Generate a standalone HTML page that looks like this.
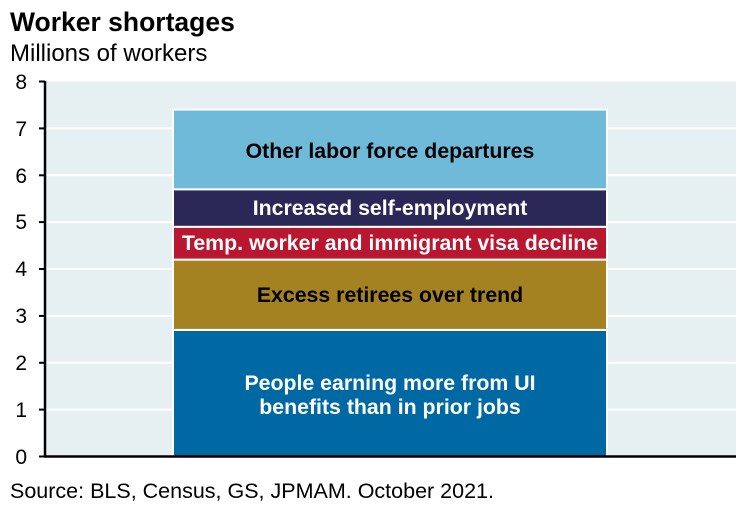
<!DOCTYPE html>
<html><head><meta charset="utf-8"><style>
body{margin:0;background:#fff}
svg{display:block;font-family:"Liberation Sans",Arial,sans-serif}
</style></head><body>
<svg width="741" height="509" viewBox="0 0 741 509">
<text x="10" y="31" font-size="26.5" font-weight="bold" fill="#000">Worker shortages</text>
<text x="10" y="61" font-size="24" fill="#000">Millions of workers</text>
<rect x="45" y="81.5" width="691" height="375" fill="#e6eff2"/>
<g stroke="#fff" stroke-width="2">
<line x1="45" x2="736" y1="128.4" y2="128.4"/>
<line x1="45" x2="736" y1="175.3" y2="175.3"/>
<line x1="45" x2="736" y1="222.1" y2="222.1"/>
<line x1="45" x2="736" y1="269" y2="269"/>
<line x1="45" x2="736" y1="315.9" y2="315.9"/>
<line x1="45" x2="736" y1="362.8" y2="362.8"/>
<line x1="45" x2="736" y1="409.6" y2="409.6"/>
</g>
<g stroke="#fff" stroke-width="2">
<rect x="173" y="329.9" width="434" height="126.6" fill="#0069a4"/>
<rect x="173" y="259.6" width="434" height="70.3" fill="#a48121"/>
<rect x="173" y="226.8" width="434" height="32.8" fill="#b9162f"/>
<rect x="173" y="189.3" width="434" height="37.5" fill="#2b2757"/>
<rect x="173" y="109.6" width="434" height="79.7" fill="#6fbad8"/>
</g>
<g font-size="21.3" font-weight="bold" text-anchor="middle">
<text x="390" y="158" fill="#000">Other labor force departures</text>
<text x="390" y="215" fill="#fff">Increased self-employment</text>
<text x="390" y="250" fill="#fff">Temp. worker and immigrant visa decline</text>
<text x="390" y="302" fill="#000">Excess retirees over trend</text>
<text x="390" y="390" fill="#fff">People earning more from UI</text>
<text x="390" y="414" fill="#fff">benefits than in prior jobs</text>
</g>
<g stroke="#000" stroke-width="2.5">
<line x1="45" y1="81" x2="45" y2="457"/>
<line x1="44" y1="456.5" x2="736" y2="456.5"/>
</g>
<g stroke="#000" stroke-width="2">
<line x1="39" x2="45" y1="81.5" y2="81.5"/>
<line x1="39" x2="45" y1="128.4" y2="128.4"/>
<line x1="39" x2="45" y1="175.3" y2="175.3"/>
<line x1="39" x2="45" y1="222.1" y2="222.1"/>
<line x1="39" x2="45" y1="269" y2="269"/>
<line x1="39" x2="45" y1="315.9" y2="315.9"/>
<line x1="39" x2="45" y1="362.8" y2="362.8"/>
<line x1="39" x2="45" y1="409.6" y2="409.6"/>
<line x1="39" x2="45" y1="456.5" y2="456.5"/>
</g>
<g font-size="21" text-anchor="end" fill="#000">
<text x="27" y="89">8</text>
<text x="27" y="136">7</text>
<text x="27" y="183">6</text>
<text x="27" y="229">5</text>
<text x="27" y="276">4</text>
<text x="27" y="323">3</text>
<text x="27" y="370">2</text>
<text x="27" y="417">1</text>
<text x="27" y="464">0</text>
</g>
<text x="10" y="498" font-size="21.5" fill="#000">Source: BLS, Census, GS, JPMAM. October 2021.</text>
</svg>
</body></html>
